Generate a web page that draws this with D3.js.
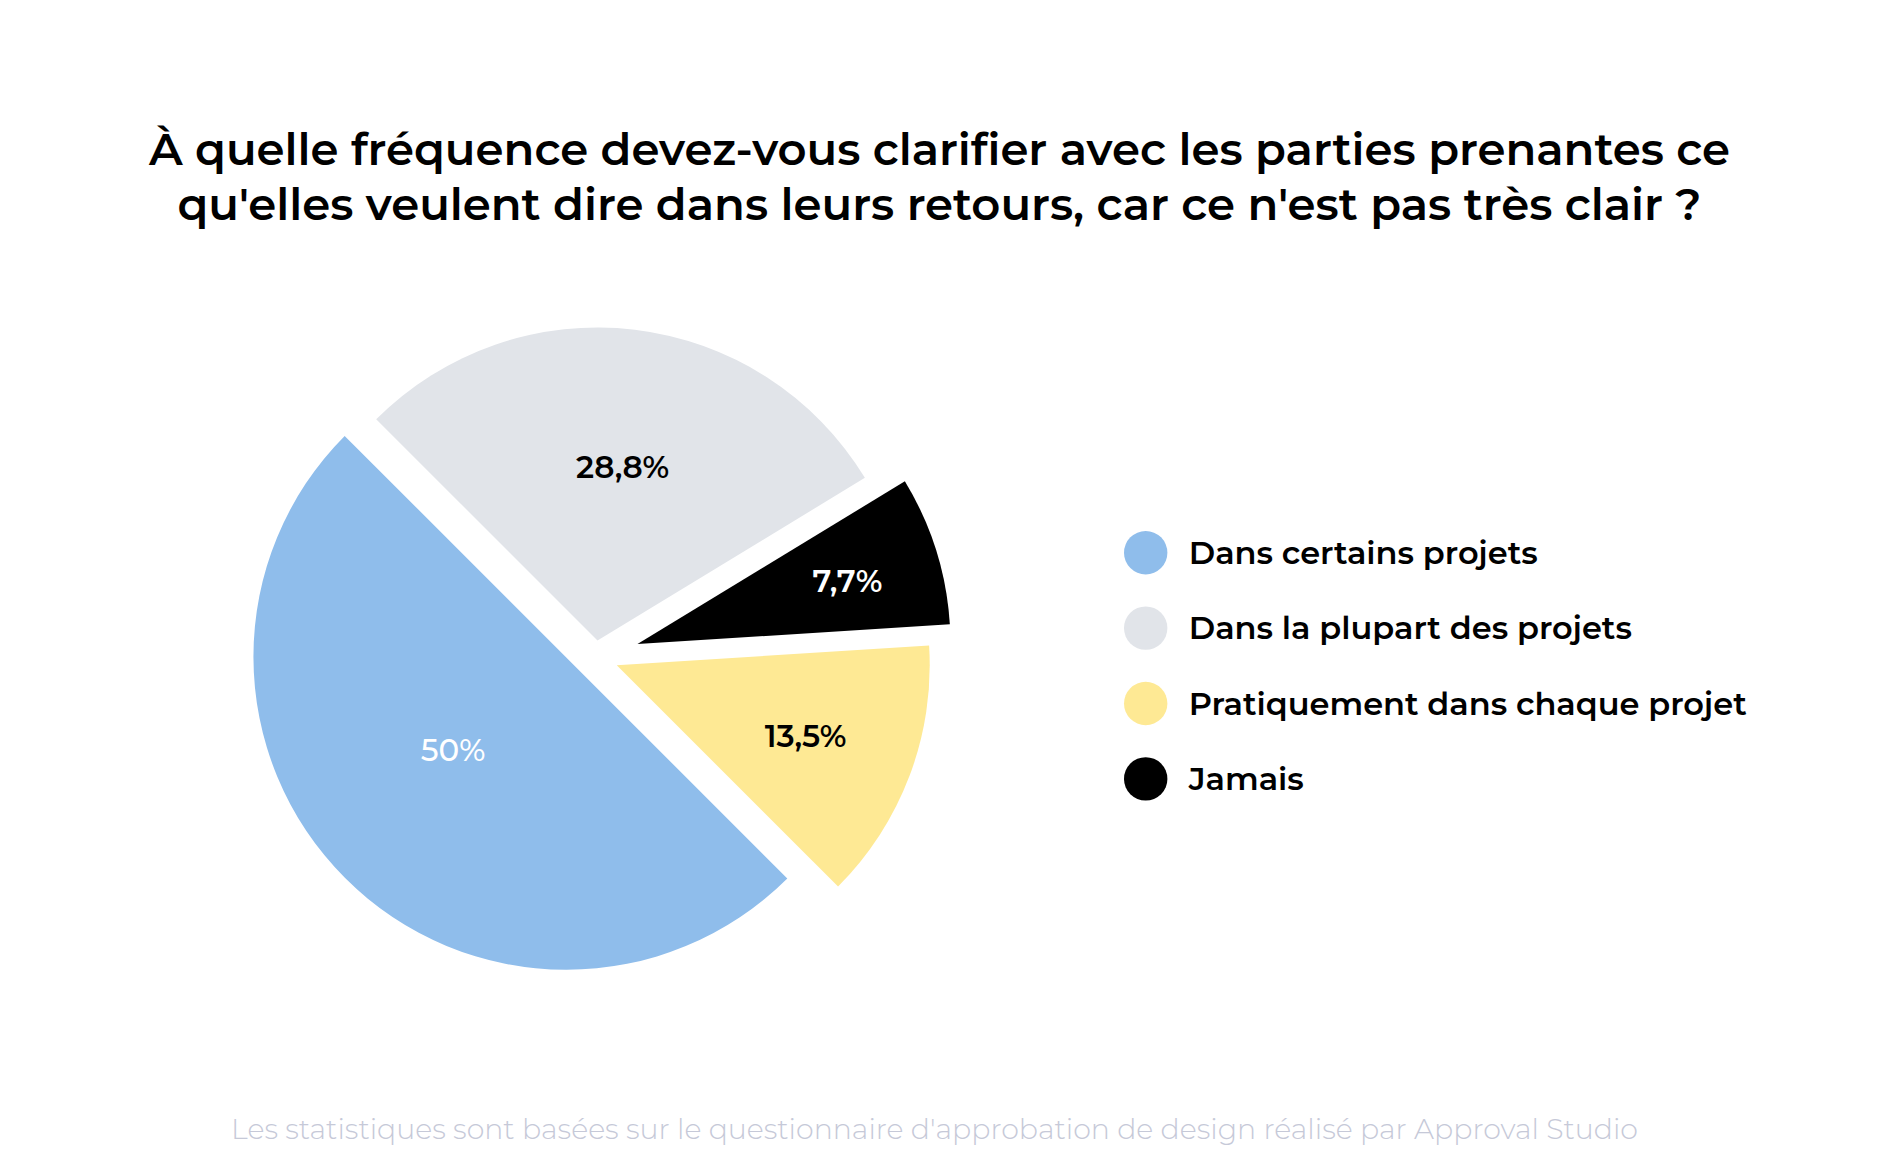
<!DOCTYPE html>
<html>
<head>
<meta charset="utf-8">
<script src="https://cdn.jsdelivr.net/npm/d3@7"></script>
<style>
  html, body { margin: 0; padding: 0; background: #fff; }
  svg { display: block; font-family: Montserrat, Inter, "Open Sans", sans-serif; }
</style>
</head>
<body>
<div id="app"></div>
<script>
// Data
const titleLines = [
  "À quelle fréquence devez-vous clarifier avec les parties prenantes ce",
  "qu'elles veulent dire dans leurs retours, car ce n'est pas très clair ?"
];
const categories = [
  "Dans certains projets",
  "Dans la plupart des projets",
  "Pratiquement dans chaque projet",
  "Jamais"
];
const values = [50, 28.8, 13.5, 7.7];
const valueLabels = ["50%", "28,8%", "13,5%", "7,7%"];
const footnote = "Les statistiques sont basées sur le questionnaire d'approbation de design réalisé par Approval Studio";

// Styles
const colors = ["#8fbdeb", "#e1e4e9", "#fee994", "#000000"];
const labelColors = ["#ffffff", "#000000", "#000000", "#ffffff"];
const sliceOrder = [0, 1, 3, 2]; // clockwise round the pie
const explodeDist = [29.5, 16.8, 22.7, 44];
const explodeDir = [270, null, null, null]; // degrees, null = slice middle
const labelRadius = [0.468, 0.56, 0.645, 0.7];
const labelTurn = [5.5, 1.4, 0, 0.8]; // degrees

const W = 1879, H = 1176;
const cx = 595.5, cy = 657.2, R = 313;

const svg = d3.select('#app').append('svg')
  .attr('width', W)
  .attr('height', H);

// Title
svg.selectAll('text.title')
  .data(titleLines)
  .join('text')
  .attr('class', 'title')
  .attr('x', W / 2)
  .attr('y', (d, i) => 165 + i * 55)
  .attr('text-anchor', 'middle')
  .attr('font-size', 45)
  .attr('font-weight', 600)
  .attr('fill', '#000')
  .text((d) => d);

// Pie
const rows = sliceOrder.map((i) => ({ i, value: values[i] }));
const pie = d3.pie()
  .sort(null)
  .value((d) => d.value)
  .startAngle(Math.PI * 0.75)
  .endAngle(Math.PI * 2.75);

const arc = d3.arc().innerRadius(0).outerRadius(R);
const arcs = pie(rows);

function offset(d) {
  const mid = (d.startAngle + d.endAngle) / 2;
  const dir = explodeDir[d.data.i] == null ? mid : explodeDir[d.data.i] * Math.PI / 180;
  const k = explodeDist[d.data.i];
  return [cx + k * Math.sin(dir), cy - k * Math.cos(dir)];
}

const g = svg.selectAll('g.slice')
  .data(arcs)
  .join('g')
  .attr('class', 'slice')
  .attr('transform', (d) => `translate(${offset(d)})`);

g.append('path')
  .attr('d', arc)
  .attr('fill', (d) => colors[d.data.i]);

g.append('text')
  .attr('transform', (d) => {
    const a = (d.startAngle + d.endAngle) / 2 + labelTurn[d.data.i] * Math.PI / 180;
    const r = R * labelRadius[d.data.i];
    return `translate(${r * Math.sin(a)},${-r * Math.cos(a)})`;
  })
  .attr('text-anchor', 'middle')
  .attr('dy', '0.35em')
  .attr('font-size', 31)
  .attr('font-weight', (d) => (d.data.i === 0 ? 500 : 600))
  .attr('fill', (d) => labelColors[d.data.i])
  .text((d) => valueLabels[d.data.i]);

// Legend
const legend = svg.selectAll('g.legend')
  .data(categories)
  .join('g')
  .attr('class', 'legend')
  .attr('transform', (d, i) => `translate(1145.7,${552.7 + i * 75.4})`);

legend.append('circle')
  .attr('r', 21.7)
  .attr('fill', (d, i) => colors[i]);

legend.append('text')
  .attr('x', 43)
  .attr('dy', '0.35em')
  .attr('font-size', 32)
  .attr('font-weight', 600)
  .attr('fill', '#000')
  .text((d) => d);

// Footnote
svg.append('text')
  .attr('x', W / 2 - 5)
  .attr('y', 1139)
  .attr('text-anchor', 'middle')
  .attr('font-size', 28.4)
  .attr('font-weight', 300)
  .attr('fill', '#c6c9d8')
  .text(footnote);
</script>
</body>
</html>
